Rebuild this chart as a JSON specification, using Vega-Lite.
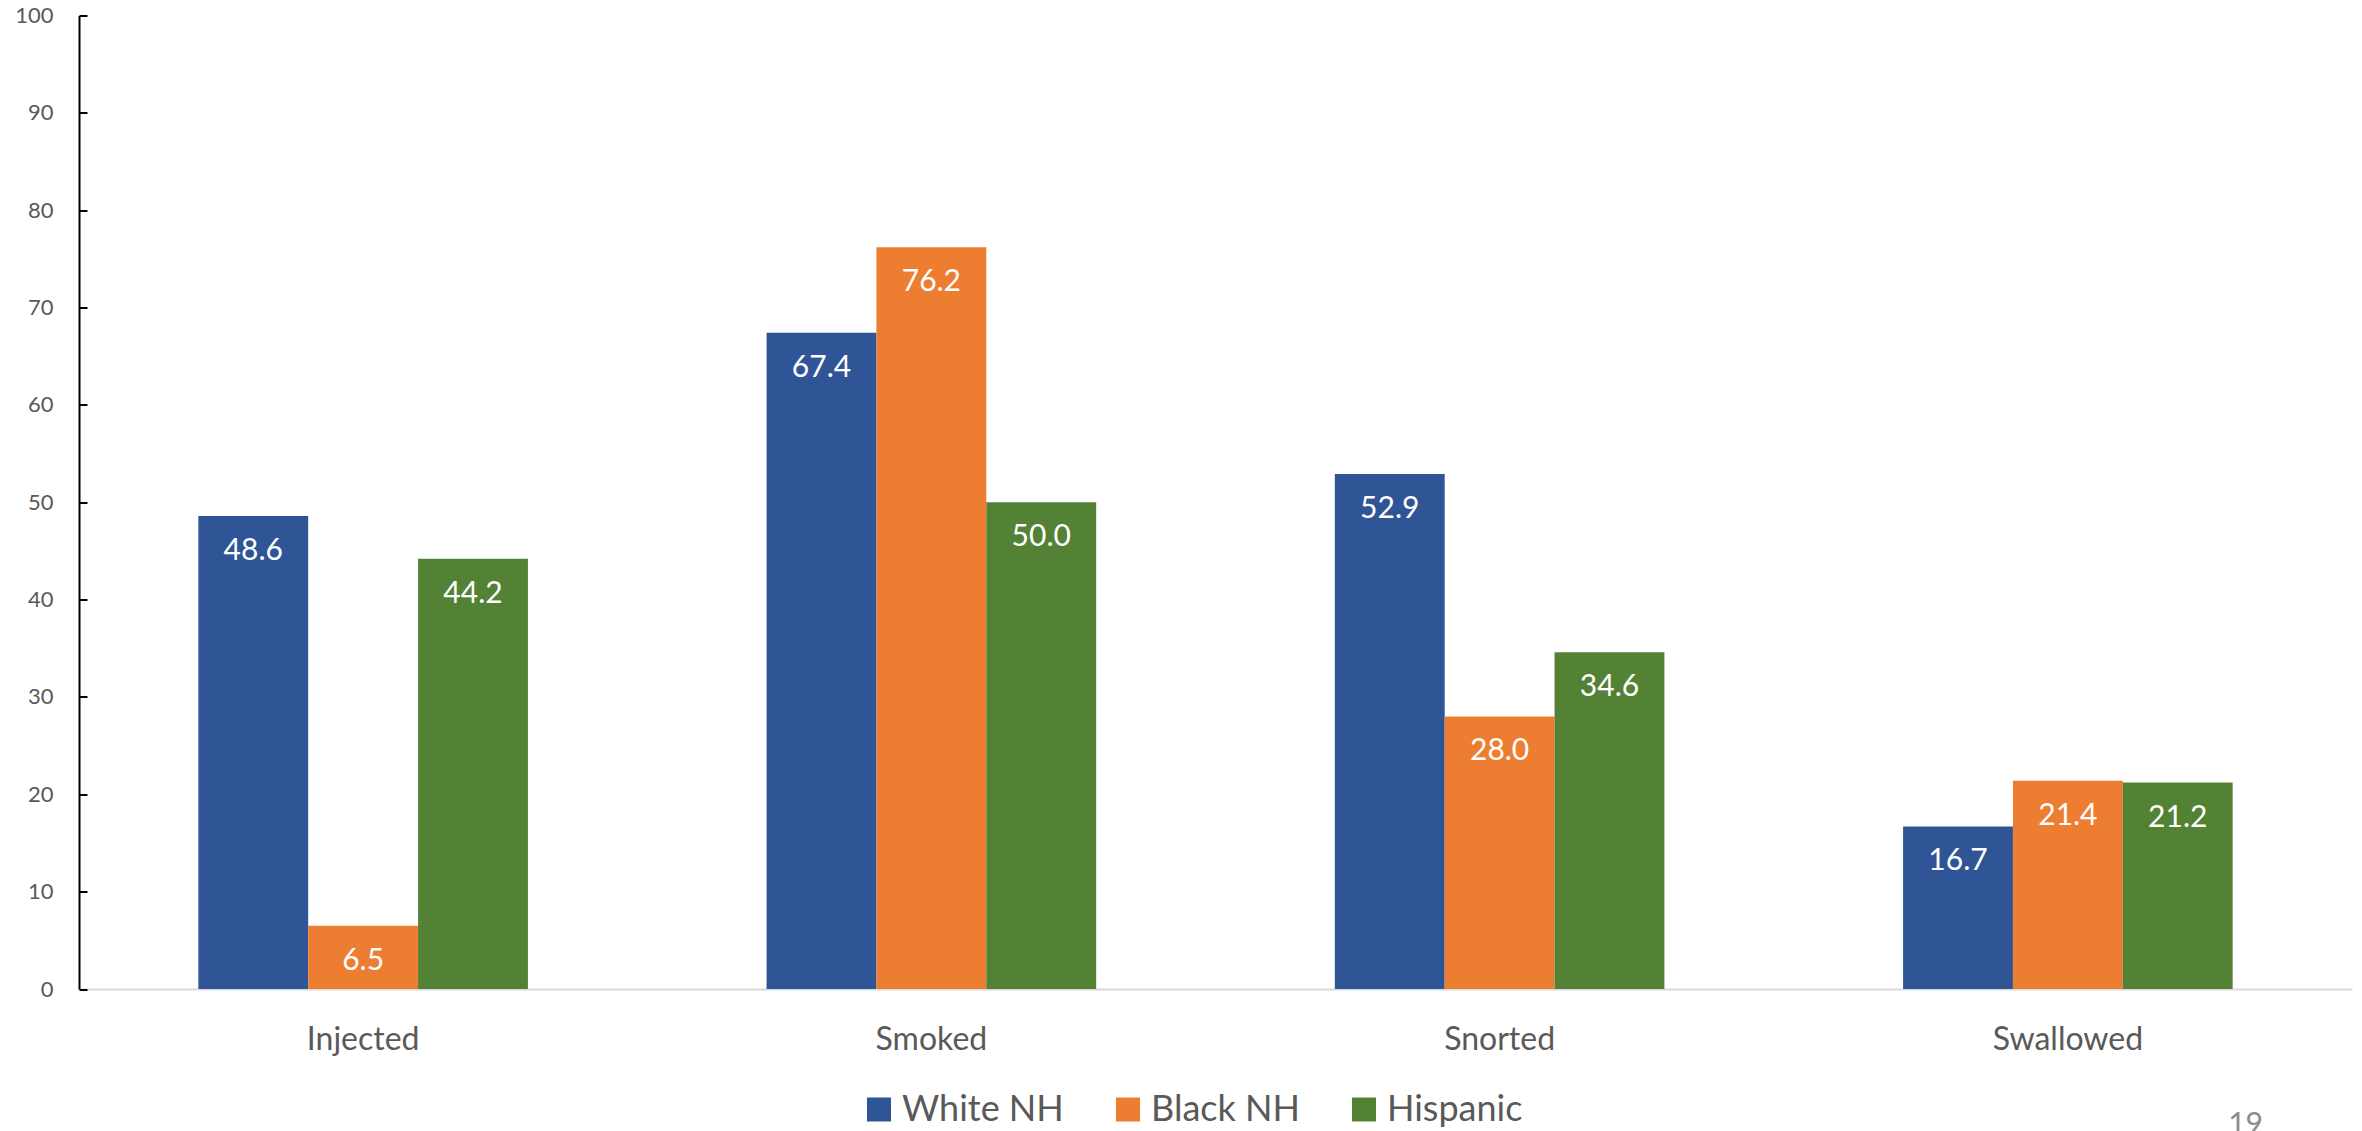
{
  "$schema": "https://vega.github.io/schema/vega-lite/v6.json",
  "width": 2273,
  "height": 973.5,
  "autosize": {"type": "none"},
  "padding": {"left": 79, "top": 15.5, "right": 10, "bottom": 142},
  "background": "white",
  "config": {"view": {"stroke": null}, "font": "Lato"},
  "title": {"text": "19", "orient": "bottom", "anchor": "end", "fontSize": 30, "fontWeight": "normal", "color": "#8c8c8c", "dx": -89, "offset": 0, "dy": -18},
  "data": {
    "values": [
      {"method": "Injected", "group": "White NH", "value": 48.6},
      {"method": "Injected", "group": "Black NH", "value": 6.5},
      {"method": "Injected", "group": "Hispanic", "value": 44.2},
      {"method": "Smoked", "group": "White NH", "value": 67.4},
      {"method": "Smoked", "group": "Black NH", "value": 76.2},
      {"method": "Smoked", "group": "Hispanic", "value": 50.0},
      {"method": "Snorted", "group": "White NH", "value": 52.9},
      {"method": "Snorted", "group": "Black NH", "value": 28.0},
      {"method": "Snorted", "group": "Hispanic", "value": 34.6},
      {"method": "Swallowed", "group": "White NH", "value": 16.7},
      {"method": "Swallowed", "group": "Black NH", "value": 21.4},
      {"method": "Swallowed", "group": "Hispanic", "value": 21.2}
    ]
  },
  "encoding": {
    "x": {
      "field": "method", "type": "nominal",
      "sort": ["Injected", "Smoked", "Snorted", "Swallowed"],
      "scale": {"paddingInner": 0.42, "paddingOuter": 0.21},
      "axis": {"title": null, "labelAngle": 0, "labelFontSize": 32, "labelColor": "#595959", "labelPadding": 35, "ticks": false, "tickSize": 0, "domainColor": "#d9d9d9", "domainWidth": 2}
    },
    "xOffset": {
      "field": "group", "type": "nominal",
      "sort": ["White NH", "Black NH", "Hispanic"],
      "scale": {"paddingInner": 0, "paddingOuter": 0}
    },
    "y": {
      "field": "value", "type": "quantitative",
      "scale": {"domain": [0, 100], "nice": false},
      "axis": {"title": null, "grid": false, "values": [0, 10, 20, 30, 40, 50, 60, 70, 80, 90, 100], "labelFontSize": 22, "labelColor": "#595959", "labelPadding": 34, "tickSize": -8, "tickColor": "#000000", "tickWidth": 2, "domainColor": "#000000", "domainWidth": 2}
    }
  },
  "layer": [
    {
      "mark": {"type": "bar"},
      "encoding": {
        "color": {
          "field": "group", "type": "nominal",
          "sort": ["White NH", "Black NH", "Hispanic"],
          "scale": {"domain": ["White NH", "Black NH", "Hispanic"], "range": ["#2F5597", "#ED7D31", "#548235"]},
          "legend": {"title": null, "orient": "none", "direction": "horizontal", "legendX": 782, "legendY": 1076, "symbolType": "square", "symbolSize": 576, "symbolStrokeWidth": 0, "symbolOpacity": 1, "labelFontSize": 36, "labelColor": "#595959", "labelOffset": 5, "columnPadding": 46, "padding": 0, "labelLimit": 400}
        }
      }
    },
    {
      "mark": {"type": "text", "color": "white", "fontSize": 30, "baseline": "alphabetic", "dy": 44},
      "encoding": {"text": {"field": "value", "type": "quantitative", "format": ".1f"}}
    }
  ]
}
